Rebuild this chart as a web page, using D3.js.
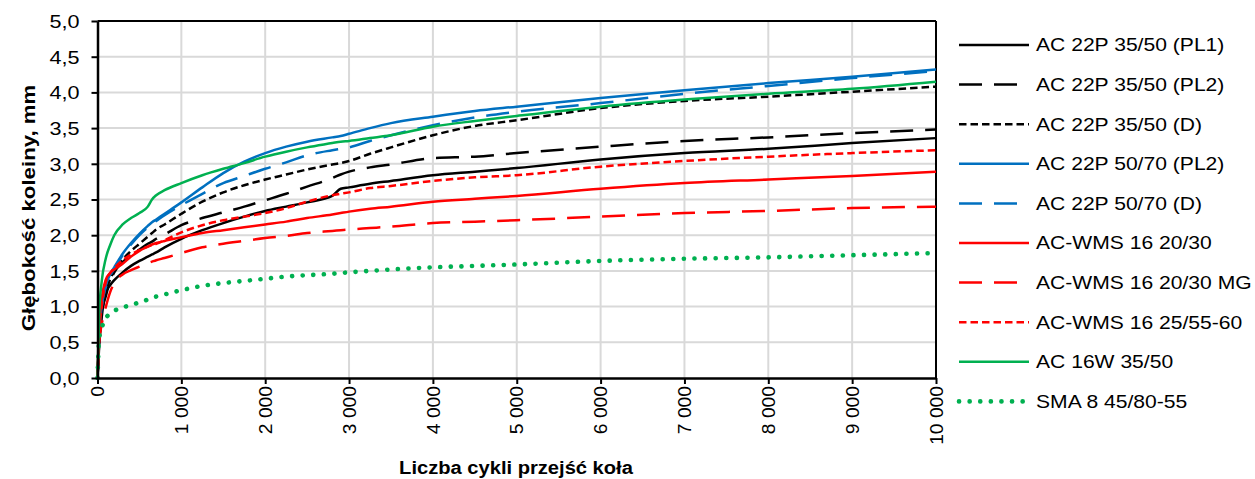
<!DOCTYPE html>
<html>
<head>
<meta charset="utf-8">
<script src="https://cdn.jsdelivr.net/npm/d3@7"></script>
<style>
  html, body { margin: 0; padding: 0; background: #fff; }
  svg { display: block; }
  text { font-family: "Liberation Sans", Arial, sans-serif; fill: #000; }
</style>
</head>
<body>
<svg id="chart" width="1255" height="479"></svg>
<script>
// ---------------- DATA ----------------
const cycles = [0,20,50,100,150,200,300,400,500,600,650,700,800,1000,1250,1500,1750,2000,2250,2500,2800,2900,3000,3250,3500,4000,4500,5000,6000,7000,8000,9000,10000];

const ac22p3550PL1 = [0,0.45,0.85,1.2,1.3,1.37,1.48,1.57,1.64,1.70,1.73,1.76,1.83,1.95,2.07,2.17,2.26,2.34,2.40,2.46,2.55,2.65,2.67,2.72,2.76,2.84,2.89,2.94,3.06,3.15,3.21,3.29,3.36];
const ac22p3550PL2 = [0,0.5,0.9,1.15,1.35,1.48,1.62,1.73,1.80,1.88,1.91,1.95,2.01,2.14,2.24,2.32,2.40,2.49,2.58,2.68,2.80,2.85,2.89,2.95,2.99,3.08,3.10,3.15,3.24,3.32,3.37,3.43,3.48];
const ac22p3550D   = [0,0.5,0.9,1.2,1.38,1.5,1.66,1.78,1.88,1.98,2.03,2.08,2.15,2.30,2.47,2.60,2.70,2.78,2.85,2.92,2.99,3.01,3.04,3.14,3.23,3.40,3.53,3.61,3.78,3.88,3.94,4.01,4.08];
const ac22p5070PL2 = [0,0.6,1.0,1.3,1.45,1.55,1.74,1.89,2.02,2.13,2.18,2.22,2.30,2.46,2.67,2.87,3.03,3.15,3.24,3.31,3.37,3.39,3.42,3.50,3.57,3.66,3.74,3.80,3.92,4.03,4.13,4.22,4.32];
const ac22p5070D   = [0,0.6,1.0,1.28,1.43,1.53,1.72,1.87,2.0,2.11,2.16,2.2,2.28,2.42,2.58,2.73,2.83,2.93,3.02,3.12,3.19,3.21,3.23,3.32,3.40,3.54,3.65,3.73,3.85,3.98,4.09,4.20,4.30];
const acwms2030    = [0,0.7,1.1,1.38,1.47,1.52,1.60,1.70,1.78,1.84,1.87,1.89,1.92,1.97,2.03,2.07,2.11,2.15,2.19,2.24,2.29,2.31,2.33,2.37,2.40,2.47,2.51,2.55,2.65,2.73,2.78,2.83,2.89];
const acwms2030MG  = [0,0.5,0.75,1.0,1.2,1.33,1.45,1.51,1.56,1.61,1.63,1.65,1.68,1.75,1.83,1.88,1.92,1.96,1.99,2.03,2.06,2.07,2.08,2.10,2.12,2.17,2.19,2.21,2.26,2.31,2.34,2.38,2.40];
const acwms2555    = [0,0.6,1.0,1.35,1.47,1.54,1.65,1.73,1.79,1.84,1.86,1.88,1.93,2.04,2.14,2.21,2.26,2.31,2.38,2.47,2.56,2.58,2.60,2.66,2.69,2.76,2.81,2.84,2.96,3.04,3.10,3.15,3.19];
const ac16w3550    = [0,0.9,1.35,1.68,1.86,2.0,2.15,2.24,2.31,2.40,2.50,2.56,2.63,2.73,2.84,2.93,3.01,3.10,3.17,3.23,3.29,3.31,3.32,3.36,3.40,3.52,3.60,3.67,3.80,3.90,3.98,4.05,4.15];
const sma84580     = [0,0.55,0.7,0.84,0.9,0.94,0.99,1.02,1.06,1.10,1.13,1.14,1.17,1.23,1.29,1.33,1.36,1.39,1.42,1.44,1.46,1.47,1.48,1.50,1.52,1.55,1.57,1.59,1.64,1.67,1.69,1.72,1.75];

const seriesNames = ["AC 22P 35/50 (PL1)","AC 22P 35/50 (PL2)","AC 22P 35/50 (D)","AC 22P 50/70 (PL2)","AC 22P 50/70 (D)","AC-WMS 16 20/30","AC-WMS 16 20/30 MG","AC-WMS 16 25/55-60","AC 16W 35/50","SMA 8 45/80-55"];
const seriesValues = [ac22p3550PL1, ac22p3550PL2, ac22p3550D, ac22p5070PL2, ac22p5070D, acwms2030, acwms2030MG, acwms2555, ac16w3550, sma84580];

const xTicks = [0,1000,2000,3000,4000,5000,6000,7000,8000,9000,10000];
const yTicks = [0,0.5,1,1.5,2,2.5,3,3.5,4,4.5,5];

const xTitle = "Liczba cykli przejść koła";
const yTitle = "Głębokość koleiny, mm";

// ---------------- STYLES ----------------
const styles = [
  {color:"#000000", dash:null,       width:2.5, cap:"butt"},
  {color:"#000000", dash:"23,12",    width:2.5, cap:"butt"},
  {color:"#000000", dash:"7.5,4",    width:2.5, cap:"butt"},
  {color:"#0070C0", dash:null,       width:2.5, cap:"butt"},
  {color:"#0070C0", dash:"23,12",    width:2.5, cap:"butt"},
  {color:"#FF0000", dash:null,       width:2.5, cap:"butt"},
  {color:"#FF0000", dash:"23,12",    width:2.5, cap:"butt"},
  {color:"#FF0000", dash:"7.5,4",    width:2.5, cap:"butt"},
  {color:"#00B050", dash:null,       width:2.5, cap:"butt"},
  {color:"#00B050", dash:"0.1,10.5", width:4.6, cap:"round"}
];

// ---------------- LAYOUT ----------------
const svg = d3.select("#chart");
const L = 97.5, R = 936, T = 21, B = 378;

const x = d3.scaleLinear().domain([0, 10000]).range([L, R]);
const y = d3.scaleLinear().domain([0, 5]).range([B, T]);

function stretch(sel, f) {
  sel.each(function() {
    const len = this.getComputedTextLength();
    d3.select(this).attr("textLength", len * f).attr("lengthAdjust", "spacingAndGlyphs");
  });
}

// gridlines
const grid = svg.append("g");
grid.selectAll("line.v").data(xTicks.slice(1, -1)).join("line")
  .attr("x1", d => x(d)).attr("x2", d => x(d)).attr("y1", T).attr("y2", B)
  .attr("stroke", "#d9d9d9").attr("stroke-width", 2);
grid.selectAll("line.h").data(yTicks.slice(1, -1)).join("line")
  .attr("x1", L).attr("x2", R).attr("y1", d => y(d)).attr("y2", d => y(d))
  .attr("stroke", "#d9d9d9").attr("stroke-width", 2);

// plot border (top & right)
svg.append("line").attr("x1", L).attr("x2", R).attr("y1", T).attr("y2", T).attr("stroke", "#000").attr("stroke-width", 2);
svg.append("line").attr("x1", R).attr("x2", R).attr("y1", T).attr("y2", B).attr("stroke", "#000").attr("stroke-width", 2);

// series
const line = d3.line().x((d, i) => x(cycles[i])).y(d => y(d)).curve(d3.curveMonotoneX);
const gLines = svg.append("g");
seriesValues.forEach((vals, k) => {
  const s = styles[k];
  gLines.append("path").datum(vals)
    .attr("d", line)
    .attr("fill", "none")
    .attr("stroke", s.color)
    .attr("stroke-width", s.width)
    .attr("stroke-linecap", s.cap)
    .attr("stroke-linejoin", "round")
    .attr("stroke-dasharray", s.dash);
});

// axes
const fmtX = d => d3.format(",")(d).replace(/,/g, " ");
const fmtY = d => d3.format(".1f")(d).replace(".", ",");

const xAxis = svg.append("g").attr("transform", `translate(0,${B})`)
  .call(d3.axisBottom(x).tickValues(xTicks).tickFormat(fmtX).tickSizeInner(6).tickSizeOuter(0));
xAxis.select(".domain").attr("stroke", "#000").attr("stroke-width", 2.5);
xAxis.selectAll(".tick line").attr("stroke", "#000").attr("stroke-width", 2);
xAxis.selectAll(".tick text")
  .attr("font-size", 17.5).attr("font-family", "Liberation Sans, Arial, sans-serif")
  .attr("transform", "rotate(-90)")
  .attr("x", -8).attr("y", 0).attr("dy", "0.35em")
  .attr("text-anchor", "end")
  .call(stretch, 1.1);

const yAxis = svg.append("g").attr("transform", `translate(${L},0)`)
  .call(d3.axisLeft(y).tickValues(yTicks).tickFormat(fmtY).tickSizeInner(6).tickSizeOuter(0));
yAxis.select(".domain").attr("stroke", "#000").attr("stroke-width", 2.5);
yAxis.selectAll(".tick line").attr("stroke", "#000").attr("stroke-width", 2);
yAxis.selectAll(".tick text")
  .attr("font-size", 18).attr("font-family", "Liberation Sans, Arial, sans-serif")
  .attr("x", -18).attr("dy", "0.35em")
  .attr("text-anchor", "end")
  .call(stretch, 1.2);

// axis titles
svg.append("text")
  .attr("x", 516).attr("y", 474)
  .attr("text-anchor", "middle")
  .attr("font-size", 17.5).attr("font-weight", "bold")
  .text(xTitle).call(stretch, 1.15);

svg.append("text")
  .attr("transform", "translate(35,208) rotate(-90)")
  .attr("text-anchor", "middle")
  .attr("font-size", 17.5).attr("font-weight", "bold")
  .text(yTitle).call(stretch, 1.27);

// legend
const leg = svg.append("g");
seriesNames.forEach((name, k) => {
  const s = styles[k];
  const yy = 45 + k * 39.6;
  leg.append("line")
    .attr("x1", 959).attr("x2", 1029).attr("y1", yy).attr("y2", yy)
    .attr("stroke", s.color).attr("stroke-width", s.width)
    .attr("stroke-linecap", s.cap)
    .attr("stroke-dasharray", s.dash);
  leg.append("text")
    .attr("x", 1036).attr("y", yy).attr("dy", "0.35em")
    .attr("font-size", 18.5)
    .text(name).call(stretch, 1.14);
});
</script>
</body>
</html>
